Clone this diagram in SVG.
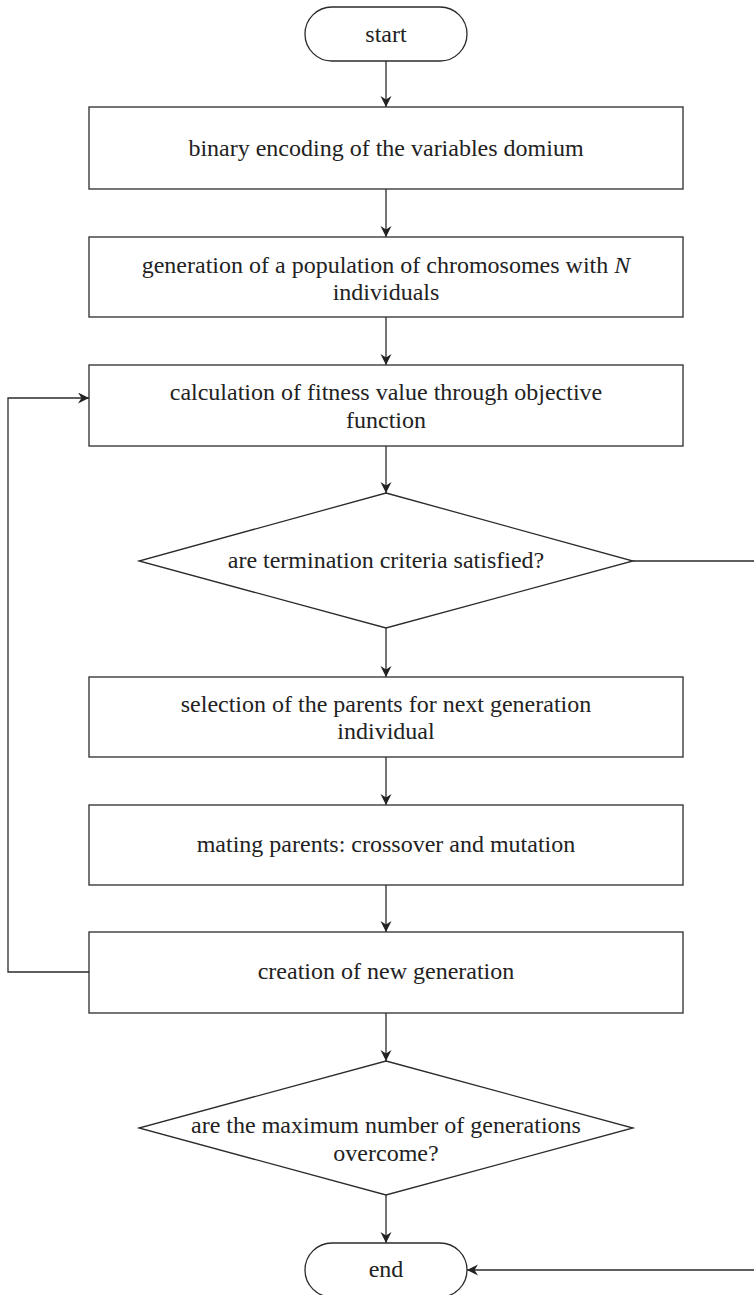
<svg xmlns="http://www.w3.org/2000/svg" width="754" height="1295" viewBox="0 0 754 1295">
<style>
.s{fill:#fff;stroke:#2b2b2b;stroke-width:1.3}
.t{font-family:"Liberation Serif","Times New Roman",serif;font-size:24px;fill:#222;text-anchor:middle}
.c{fill:none;stroke:#2b2b2b;stroke-width:1.3}
</style>
<defs>
<marker id="ah" markerWidth="14" markerHeight="14" refX="11" refY="5.5" orient="auto" markerUnits="userSpaceOnUse">
<path d="M0,0 L11,5.5 L0,11 L3.5,5.5 Z" fill="#222"/>
</marker>
</defs>
<rect width="754" height="1295" fill="#fff"/>
<g id="connectors">
<path class="c" d="M386,61 V107" marker-end="url(#ah)"/>
<path class="c" d="M386,189 V237" marker-end="url(#ah)"/>
<path class="c" d="M386,317 V365" marker-end="url(#ah)"/>
<path class="c" d="M386,446 V493" marker-end="url(#ah)"/>
<path class="c" d="M386,628 V677" marker-end="url(#ah)"/>
<path class="c" d="M386,757 V805" marker-end="url(#ah)"/>
<path class="c" d="M386,885 V932" marker-end="url(#ah)"/>
<path class="c" d="M386,1013 V1061" marker-end="url(#ah)"/>
<path class="c" d="M386,1195 V1243" marker-end="url(#ah)"/>
<path class="c" d="M89,972 H8 V398 H89" marker-end="url(#ah)"/>
<path class="c" d="M633,561 H760 V1270 H467" marker-end="url(#ah)"/>
</g>
<g id="start">
<rect class="s" x="305" y="7" width="162" height="54" rx="27"/>
<text class="t" x="386" y="42">start</text>
</g>
<g id="encode">
<rect class="s" x="89" y="107" width="594" height="82"/>
<text class="t" x="386" y="156">binary encoding of the variables domium</text>
</g>
<g id="population">
<rect class="s" x="89" y="237" width="594" height="80"/>
<text class="t" x="386" y="273">generation of a population of chromosomes with <tspan font-style="italic">N</tspan></text>
<text class="t" x="386" y="300">individuals</text>
</g>
<g id="fitness">
<rect class="s" x="89" y="365" width="594" height="81"/>
<text class="t" x="386" y="400">calculation of fitness value through objective</text>
<text class="t" x="386" y="428">function</text>
</g>
<g id="termination">
<polygon class="s" points="386,493 633,561 386,628 139,561"/>
<text class="t" x="386" y="568">are termination criteria satisfied?</text>
</g>
<g id="selection">
<rect class="s" x="89" y="677" width="594" height="80"/>
<text class="t" x="386" y="712">selection of the parents for next generation</text>
<text class="t" x="386" y="739">individual</text>
</g>
<g id="mating">
<rect class="s" x="89" y="805" width="594" height="80"/>
<text class="t" x="386" y="852">mating parents: crossover and mutation</text>
</g>
<g id="creation">
<rect class="s" x="89" y="932" width="594" height="81"/>
<text class="t" x="386" y="979">creation of new generation</text>
</g>
<g id="maxgen">
<polygon class="s" points="386,1061 633,1128 386,1195 139,1128"/>
<text class="t" x="386" y="1133">are the maximum number of generations</text>
<text class="t" x="386" y="1161">overcome?</text>
</g>
<g id="end">
<rect class="s" x="305" y="1243" width="162" height="54" rx="27"/>
<text class="t" x="386" y="1277">end</text>
</g>
</svg>
